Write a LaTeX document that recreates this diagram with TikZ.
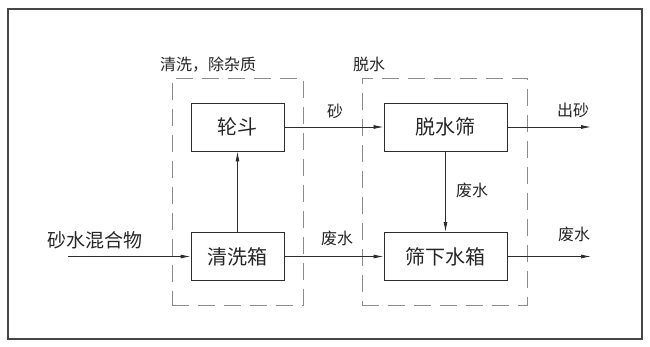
\documentclass[tikz,border=0pt]{standalone}
\usepackage{fontspec}
\newfontfamily\cjk{Noto Sans CJK SC}
\usepackage{tikz}
\usetikzlibrary{positioning,arrows.meta}
\definecolor{linec}{RGB}{45,45,45}
\definecolor{dashc}{RGB}{140,140,140}
\definecolor{framec}{RGB}{70,70,70}
\tikzset{
  unit/.style   = {draw=linec, line width=0.9pt, minimum width=93pt, minimum height=48pt,
                   inner sep=0pt, font=\cjk\fontsize{20}{20}\selectfont, text=black!85},
  grp/.style    = {draw=dashc, line width=0.9pt, dash pattern=on 17pt off 9pt, inner sep=0pt},
  flow/.style   = {-{Latex[length=10pt,width=4pt]}, line width=0.8pt, draw=linec},
  lbl/.style    = {font=\cjk\fontsize{16}{16}\selectfont, text=black!85, inner sep=0pt},
  biglbl/.style = {font=\cjk\fontsize{19}{19}\selectfont, text=black!85, inner sep=0pt},
}

\begin{document}
\begin{tikzpicture}[x=1pt, y=-1pt]
\useasboundingbox (0,0) rectangle (650,347);
\draw[framec, line width=1.4pt] (8,9) rectangle (642,339);

% dashed process groups
\node[grp, minimum width=131pt, minimum height=227pt] (wash) at (237.5,191.5) {};
\node[grp, minimum width=165pt, minimum height=227pt] (dewater) at (444.5,191.5) {};
\node[lbl, anchor=south west] (washlbl) at (160,72) {清洗，除杂质};
\node[lbl, anchor=south west] (dewaterlbl) at (353,72) {脱水};

% units
\node[unit] (wheel) at (237.5,127) {轮斗};
\node[unit] (tank) at (237.5,256.5) {清洗箱};
\node[unit, minimum width=123pt] (screen) at (445.5,127) {脱水筛};
\node[unit, minimum width=123pt] (sump) at (445.5,256.5) {筛下水箱};

\coordinate (feed) at (68,256.5);
\coordinate (sandout) at (591,127);
\coordinate (waterout) at (591,256.5);

% flows
\draw[flow] (feed) -- (tank);
\node[biglbl] (feedlbl) at (95,240) {砂水混合物};
\draw[flow] (tank) -- (wheel);
\draw[flow] (wheel) -- (screen);
\node[lbl] (sandlbl) at (335,111) {砂};
\draw[flow] (tank) -- (sump);
\node[lbl] (wastelbl1) at (337,238) {废水};
\draw[flow] (screen) -- (sump);
\node[lbl] (wastelbl2) at (472,190) {废水};
\draw[flow] (screen) -- (sandout);
\node[lbl] (outlbl1) at (573,110) {出砂};
\draw[flow] (sump) -- (waterout);
\node[lbl] (outlbl2) at (574,234) {废水};

\end{tikzpicture}
\end{document}
